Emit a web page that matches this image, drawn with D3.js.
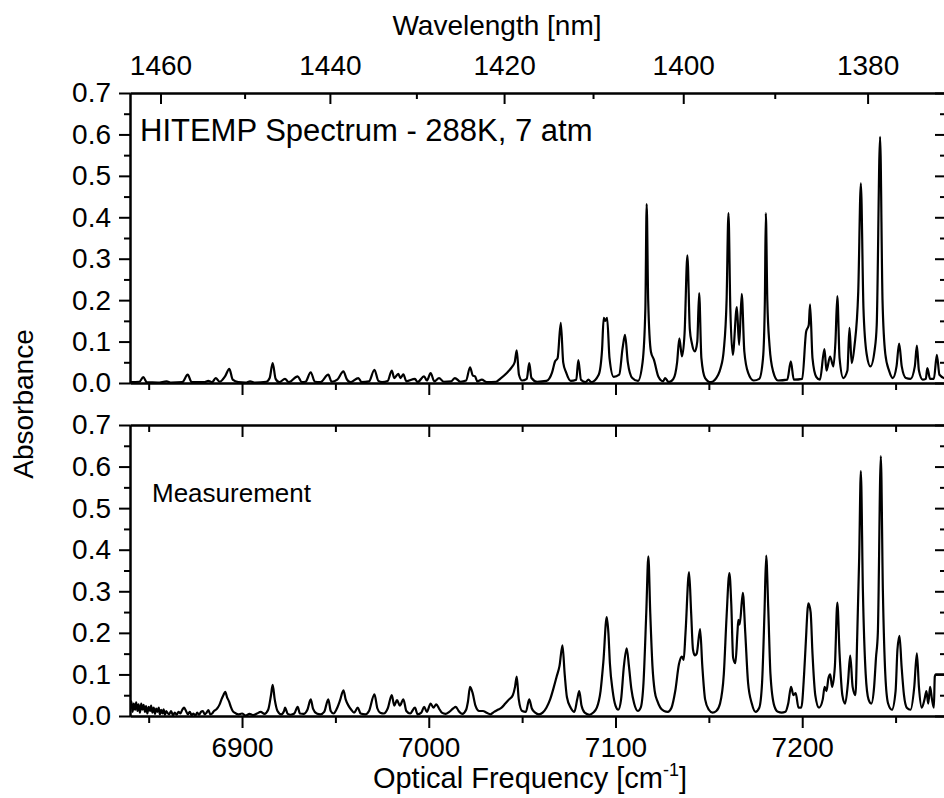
<!DOCTYPE html>
<html>
<head>
<meta charset="utf-8">
<script src="https://d3js.org/d3.v7.min.js"></script>
<style>
  body { margin: 0; background: #fff; }
  svg { display: block; font-family: "Liberation Sans", Arial, sans-serif; }
  .axis path, .axis line { stroke: #000; stroke-width: 2; }
  .axis text { font-size: 28px; fill: #000; }
</style>
</head>
<body>
<div id="chart"></div>
<script>
// Absorbance traces, [wavenumber cm-1, absorbance]
const hitempTrace = [
  [6840,0.002],[6845,0.003],[6847.1,0.014],[6849,0.002],[6855,0.001],[6859.6,0.004],[6862,0.001],
  [6868,0.002],[6870.9,0.02],[6873,0.002],[6880,0.002],[6881.9,0.005],[6884,0.002],[6885.9,0.012],
  [6888,0.003],[6890.9,0.016],[6893.2,0.034],[6895,0.008],[6898,0.002],[6902,0.001],[6904.3,0.004],
  [6907,0.001],[6913,0.003],[6914.8,0.012],[6916.4,0.048],[6918,0.01],[6920,0.002],[6923,0.01],
  [6925,0.002],[6929.8,0.016],[6932,0.002],[6934,0.003],[6936.8,0.026],[6939,0.003],[6942,0.002],
  [6946.2,0.02],[6948,0.003],[6951,0.008],[6954.3,0.028],[6956,0.01],[6958,0.002],[6962.3,0.012],
  [6964,0.002],[6968,0.004],[6970.9,0.032],[6973,0.005],[6975,0.002],[6978,0.005],[6980.2,0.03],
  [6981.5,0.012],[6983.7,0.022],[6984.8,0.012],[6986.4,0.021],[6988,0.004],[6992.6,0.01],[6994,0.002],
  [6997.5,0.016],[6999,0.006],[7001,0.024],[7003,0.004],[7005.5,0.012],[7008,0.003],[7012,0.004],
  [7014,0.012],[7017,0.003],[7020,0.006],[7022.1,0.038],[7023.6,0.018],[7024.8,0.016],[7026,0.004],
  [7028.4,0.008],[7031,0.002],[7036,0.003],[7038.2,0.01],[7041.8,0.024],[7043,0.03],[7044.4,0.038],
  [7046,0.05],[7047.1,0.079],[7048.3,0.02],[7050,0.006],[7052.5,0.01],[7053.8,0.048],[7055,0.012],
  [7058,0.003],[7063,0.005],[7066,0.025],[7067.6,0.052],[7069,0.06],[7070.7,0.145],[7072,0.05],
  [7073.5,0.026],[7076,0.005],[7079,0.008],[7080.1,0.055],[7081.5,0.008],[7084,0.002],[7085.5,0.008],
  [7087,0.002],[7091,0.02],[7092.8,0.08],[7093.7,0.157],[7094.6,0.15],[7095.5,0.157],[7096.8,0.06],[7099,0.015],
  [7102,0.02],[7103.8,0.084],[7105.1,0.116],[7106.6,0.05],[7109,0.012],[7112,0.005],[7114.5,0.05],
  [7116,0.18],[7116.7,0.432],[7117.5,0.2],[7119,0.075],[7120.6,0.056],[7123,0.015],[7125.5,0.004],
  [7126.6,0.012],[7128.5,0.002],[7131,0.01],[7133,0.05],[7134.2,0.108],[7135.6,0.064],[7137,0.12],
  [7138.5,0.308],[7139.8,0.13],[7140.9,0.096],[7142.5,0.076],[7143.8,0.1],[7144.8,0.217],[7146,0.06],
  [7148,0.012],[7151,0.002],[7155,0.02],[7156.3,0.036],[7158,0.08],[7159.5,0.2],[7160.5,0.41],
  [7161.5,0.18],[7162.8,0.068],[7165,0.183],[7166.2,0.092],[7167.6,0.215],[7169,0.076],[7171,0.025],
  [7174,0.006],[7177,0.01],[7179,0.06],[7180,0.2],[7180.5,0.41],[7181.3,0.2],[7182.5,0.09],
  [7184.4,0.028],[7187,0.006],[7192,0.008],[7193.9,0.052],[7195.5,0.008],[7200,0.01],[7202.1,0.124],
  [7203.5,0.14],[7204.2,0.19],[7205.5,0.06],[7207.5,0.015],[7209.5,0.008],[7211.9,0.082],[7213,0.03],
  [7214.9,0.064],[7216.7,0.04],[7217.8,0.1],[7218.8,0.21],[7220,0.06],[7222,0.012],[7224.2,0.03],
  [7225.3,0.133],[7226.5,0.048],[7228,0.09],[7230,0.22],[7231.4,0.482],[7232.8,0.18],[7234.5,0.07],
  [7236.5,0.04],[7238.8,0.08],[7239.9,0.14],[7241.7,0.594],[7243,0.2],[7244.5,0.07],[7246.5,0.03],
  [7248.5,0.012],[7250.5,0.04],[7251.9,0.095],[7253.3,0.04],[7255.5,0.012],[7258,0.01],[7260.3,0.04],
  [7261.4,0.09],[7262.5,0.03],[7264.5,0.008],[7266.2,0.01],[7267,0.036],[7268.5,0.01],[7270.5,0.01],
  [7272.1,0.068],[7273.5,0.02],[7277,0.01]
];

const measTrace = [
  [6840,0.02],[6840.7,0.035],[6841.4,0.01],[6842,0.03],[6842.7,0.015],[6843.3,0.033],[6844,0.012],
  [6844.6,0.028],[6845.3,0.008],[6846,0.03],[6846.6,0.015],[6847.3,0.027],[6848,0.01],[6848.6,0.024],
  [6849.3,0.006],[6850,0.022],[6850.7,0.012],[6851.3,0.025],[6852,0.008],[6852.7,0.02],[6853.4,0.005],
  [6854,0.018],[6854.7,0.01],[6855.4,0.02],[6856,0.004],[6856.7,0.015],[6857.4,0.006],[6858,0.016],
  [6858.7,0.003],[6859.4,0.012],[6860,0.008],[6861,0.004],[6862,0.012],[6863,0.002],[6864,0.008],
  [6865,0.003],[6866,0.01],[6867,0.006],[6868,0.015],[6869,0.02],[6870,0.012],[6871,0.004],
  [6872,0.01],[6873,0.002],[6874,0.006],[6875,0.001],[6876,0.008],[6877,0.003],[6878,0.01],
  [6879,0.012],[6880,0.004],[6881,0.008],[6882,0.014],[6883,0.004],[6884,0.006],[6885,0.012],
  [6886,0.015],[6887,0.02],[6888,0.028],[6889,0.04],[6890,0.05],[6891,0.058],[6892,0.045],
  [6893,0.035],[6894,0.022],[6895,0.012],[6896,0.008],[6898,0.004],[6900,0.006],[6902,0.001],
  [6904,0.005],[6906,0.002],[6908,0.006],[6910,0.01],[6912,0.005],[6914,0.015],[6915.5,0.05],
  [6916.4,0.075],[6917.5,0.04],[6919,0.012],[6921,0.004],[6922.5,0.012],[6923,0.02],[6924.5,0.005],
  [6926,0.003],[6928,0.006],[6929.8,0.022],[6931,0.006],[6933,0.005],[6935,0.015],[6936.8,0.04],
  [6938,0.018],[6940,0.006],[6942,0.004],[6944,0.01],[6946.2,0.04],[6947.5,0.012],[6949,0.006],
  [6951,0.02],[6952.5,0.038],[6954.3,0.062],[6955.5,0.04],[6957,0.025],[6958.5,0.015],[6960,0.008],
  [6962,0.02],[6963.5,0.006],[6966,0.004],[6968,0.012],[6970.9,0.052],[6972.5,0.018],[6974,0.008],
  [6976,0.006],[6978,0.018],[6980.2,0.05],[6981.5,0.025],[6983,0.038],[6984.5,0.025],[6986.4,0.04],
  [6988,0.012],[6990,0.006],[6992.6,0.02],[6994,0.004],[6996,0.008],[6997.5,0.022],[6999,0.01],
  [7001,0.03],[7002.5,0.02],[7004,0.028],[7005.5,0.018],[7007,0.008],[7009,0.005],[7011,0.01],
  [7013,0.018],[7014.5,0.022],[7016,0.012],[7018,0.005],[7020,0.015],[7021,0.035],[7022.1,0.07],
  [7023.5,0.055],[7025,0.025],[7027,0.012],[7029,0.012],[7031,0.008],[7033,0.004],[7035,0.01],
  [7037,0.015],[7039,0.02],[7041,0.03],[7043,0.04],[7045,0.05],[7046.2,0.07],[7047.1,0.095],
  [7048.2,0.04],[7050,0.012],[7052,0.01],[7053.8,0.04],[7055.2,0.018],[7057,0.008],[7059,0.004],
  [7061,0.008],[7063,0.02],[7065,0.04],[7067,0.07],[7068.5,0.095],[7070,0.12],[7071.6,0.17],
  [7072.8,0.1],[7074,0.045],[7076,0.02],[7078,0.01],[7079.5,0.04],[7080.6,0.06],[7081.8,0.025],
  [7083.5,0.008],[7086,0.003],[7088,0.008],[7090,0.02],[7092,0.06],[7093.5,0.13],[7095.3,0.238],
  [7096.2,0.2],[7097,0.127],[7098.5,0.06],[7100,0.025],[7101.5,0.015],[7103,0.04],[7104.5,0.12],
  [7106,0.163],[7107.2,0.12],[7108.5,0.065],[7110,0.03],[7112,0.012],[7113.5,0.02],[7115,0.08],
  [7116.5,0.25],[7117.6,0.384],[7118.6,0.25],[7119.8,0.12],[7121,0.06],[7122.5,0.035],[7124,0.02],
  [7126,0.012],[7128,0.01],[7130,0.02],[7132,0.06],[7134,0.125],[7135.5,0.143],[7136.5,0.135],
  [7137.5,0.2],[7139.4,0.346],[7140.5,0.25],[7141.5,0.16],[7142.5,0.146],[7143.5,0.15],[7145.3,0.209],
  [7146.5,0.12],[7148,0.04],[7150,0.015],[7152,0.008],[7154,0.012],[7156,0.03],[7158,0.1],
  [7159.5,0.24],[7161,0.344],[7162,0.27],[7163,0.14],[7164.2,0.127],[7165.3,0.2],[7165.8,0.231],
  [7166.5,0.22],[7168.2,0.296],[7169.5,0.2],[7171,0.08],[7173,0.03],[7175,0.01],[7177,0.02],
  [7178.5,0.08],[7179.8,0.25],[7180.7,0.386],[7181.8,0.26],[7183,0.1],[7185,0.025],[7187,0.01],
  [7189,0.008],[7191,0.01],[7192.5,0.03],[7194,0.07],[7195.3,0.05],[7196.5,0.055],[7198,0.02],
  [7199.5,0.02],[7201,0.1],[7201.8,0.167],[7203.3,0.271],[7204.5,0.25],[7205.5,0.15],[7207,0.05],
  [7209,0.02],[7211,0.04],[7212,0.07],[7213,0.06],[7214,0.09],[7215,0.1],[7216,0.07],[7217.5,0.12],
  [7218.8,0.273],[7220,0.15],[7221.5,0.05],[7223,0.03],[7224.5,0.08],[7225.7,0.145],[7227,0.07],
  [7228.5,0.05],[7229.5,0.2],[7230.5,0.38],[7231.4,0.589],[7232.5,0.3],[7234,0.1],[7235.5,0.04],
  [7237,0.03],[7238.5,0.07],[7239.5,0.14],[7240.5,0.2],[7242.1,0.625],[7243.2,0.3],[7244.5,0.1],
  [7246,0.03],[7248,0.015],[7250,0.06],[7251,0.16],[7252.1,0.193],[7253.2,0.12],[7254.5,0.05],
  [7256,0.02],[7258,0.015],[7260,0.07],[7261.4,0.151],[7262.5,0.07],[7264,0.02],[7265.5,0.04],
  [7266.5,0.06],[7267.5,0.03],[7268.5,0.07],[7269.5,0.04],[7270.5,0.02],[7271,0.095],[7271.5,0.1],
  [7277,0.1]
];

// axis ticks
const absTicks = [0, 0.1, 0.2, 0.3, 0.4, 0.5, 0.6, 0.7];
const absMinor = [0.05, 0.15, 0.25, 0.35, 0.45, 0.55, 0.65];
const freqTicks = [6900, 7000, 7100, 7200];
const freqMinor = [6850, 6950, 7050, 7150, 7250];
const wlTicks = [1460, 1440, 1420, 1400, 1380];
const wlMinor = [1450, 1430, 1410, 1390];

const panelLabels = ["HITEMP Spectrum - 288K, 7 atm", "Measurement"];

const width = 944, height = 798;
const left = 130, right = 946;

const svg = d3.select('#chart').append('svg')
    .attr('width', width)
    .attr('height', height);

const x = d3.scaleLinear().domain([6840, 7277]).range([left, right]);
// the wavelength axis in the original is not quite aligned with the frequency axis
const xTop = d3.scaleLinear().domain([6832.2, 7290.4]).range([left, right]);

const panels = [
    {trace: hitempTrace, top: 93, bottom: 383, label: panelLabels[0], lx: 140, ly: 141, fs: 31},
    {trace: measTrace, top: 425, bottom: 716, label: panelLabels[1], lx: 152, ly: 502, fs: 26}
];

svg.append('defs').append('clipPath').attr('id', 'clip')
    .append('rect').attr('x', left).attr('y', 0).attr('width', right - left).attr('height', height);

panels.forEach((p, i) => {
    const y = d3.scaleLinear().domain([0, 0.7]).range([p.bottom, p.top]);

    // left axis
    svg.append('g').attr('class', 'axis').attr('transform', `translate(${left},0)`)
        .call(d3.axisLeft(y).tickValues(absMinor).tickSize(6).tickSizeOuter(0).tickFormat(''));
    svg.append('g').attr('class', 'axis').attr('transform', `translate(${left},0)`)
        .call(d3.axisLeft(y).tickValues(absTicks).tickSize(11).tickSizeOuter(0).tickPadding(8)
            .tickFormat(d3.format('.1f')));

    // right axis, ticks pointing in
    svg.append('g').attr('class', 'axis').attr('transform', `translate(${right},0)`)
        .call(d3.axisLeft(y).tickValues(absMinor).tickSize(6).tickSizeOuter(0).tickFormat(''));
    svg.append('g').attr('class', 'axis').attr('transform', `translate(${right},0)`)
        .call(d3.axisLeft(y).tickValues(absTicks).tickSize(11).tickSizeOuter(0).tickFormat(''));

    // bottom axis, ticks pointing out
    svg.append('g').attr('class', 'axis').attr('transform', `translate(0,${p.bottom})`)
        .call(d3.axisBottom(x).tickValues(freqMinor).tickSize(7).tickSizeOuter(0).tickFormat(''));
    svg.append('g').attr('class', 'axis').attr('transform', `translate(0,${p.bottom})`)
        .call(d3.axisBottom(x).tickValues(freqTicks).tickSize(12).tickSizeOuter(0).tickPadding(9)
            .tickFormat(i === 1 ? d3.format('d') : ''));

    if (i === 0) {
        // wavelength axis on top
        svg.append('g').attr('class', 'axis').attr('transform', `translate(0,${p.top})`)
            .call(d3.axisTop(xTop).tickValues(wlMinor.map(l => 1e7 / l)).tickSize(-6).tickSizeOuter(0).tickFormat(''));
        svg.append('g').attr('class', 'axis').attr('transform', `translate(0,${p.top})`)
            .call(d3.axisTop(xTop).tickValues(wlTicks.map(l => 1e7 / l)).tickSize(-11).tickSizeOuter(0)
                .tickPadding(18).tickFormat(v => Math.round(1e7 / v)));
    } else {
        svg.append('g').attr('class', 'axis').attr('transform', `translate(0,${p.top})`)
            .call(d3.axisBottom(x).tickValues(freqMinor).tickSize(7).tickSizeOuter(0).tickFormat(''));
        svg.append('g').attr('class', 'axis').attr('transform', `translate(0,${p.top})`)
            .call(d3.axisBottom(x).tickValues(freqTicks).tickSize(12).tickSizeOuter(0).tickFormat(''));
    }

    const line = d3.line().x(d => x(d[0])).y(d => y(d[1])).curve(d3.curveMonotoneX);
    svg.append('path')
        .datum(p.trace)
        .attr('clip-path', 'url(#clip)')
        .attr('fill', 'none')
        .attr('stroke', '#000')
        .attr('stroke-width', 2.2)
        .attr('stroke-linejoin', 'round')
        .attr('d', line);

    svg.append('text')
        .attr('x', p.lx).attr('y', p.ly)
        .style('font-size', p.fs + 'px')
        .text(p.label);
});

// axis titles
svg.append('text')
    .attr('x', 497).attr('y', 35)
    .attr('text-anchor', 'middle')
    .style('font-size', '28px')
    .text('Wavelength [nm]');

const xt = svg.append('text')
    .attr('x', 530).attr('y', 788)
    .attr('text-anchor', 'middle')
    .style('font-size', '29px');
xt.append('tspan').text('Optical Frequency [cm');
xt.append('tspan').attr('dy', -12).style('font-size', '18px').text('-1');
xt.append('tspan').attr('dy', 12).text(']');

svg.append('text')
    .attr('transform', 'translate(33,404) rotate(-90)')
    .attr('text-anchor', 'middle')
    .style('font-size', '28px')
    .text('Absorbance');
</script>
</body>
</html>
